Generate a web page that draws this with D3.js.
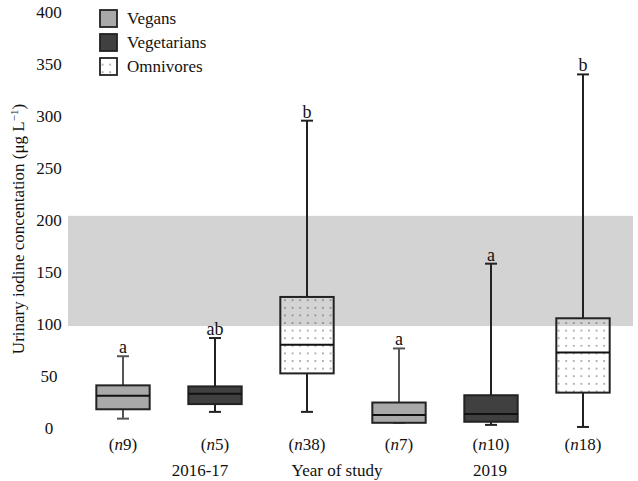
<!DOCTYPE html>
<html>
<head>
<meta charset="utf-8">
<script src="https://cdn.jsdelivr.net/npm/d3@7"></script>
<style>
body { margin: 0; background: #fff; }
</style>
</head>
<body>
<svg id="chart" width="638" height="481"></svg>
<script>
// ---- data ----
const groups = ["Vegans", "Vegetarians", "Omnivores", "Vegans", "Vegetarians", "Omnivores"];
const nLabels = ["9", "5", "38", "7", "10", "18"];
const letters = ["a", "ab", "b", "a", "a", "b"];
const whiskerLow = [9, 15.5, 15.5, 5, 3, 1];
const q1 = [18, 23, 52.5, 5, 6, 34];
const median = [31, 33, 80, 12.5, 13.5, 72.5];
const q3 = [41, 40, 126, 24.5, 31.5, 105.5];
const whiskerHigh = [69, 86.5, 295.5, 76.5, 158, 340];
const yTicks = [0, 50, 100, 150, 200, 250, 300, 350, 400];
const band = [98, 204];
const yearLabels = ["2016-17", "Year of study", "2019"];
const legendItems = ["Vegans", "Vegetarians", "Omnivores"];

const FONT = "Liberation Serif";
const svg = d3.select("#chart");
const defs = svg.append("defs");
const pat = defs.append("pattern").attr("id", "dots").attr("patternUnits", "userSpaceOnUse")
  .attr("width", 7.6).attr("height", 7.6);
pat.append("circle").attr("cx", 3.8).attr("cy", 3.8).attr("r", 0.75).attr("fill", "#444");

const fills = { Vegans: "#a9a9a9", Vegetarians: "#404040", Omnivores: "url(#dots)" };

const y = d3.scaleLinear().domain([0, 400]).range([428, 12]);
const x = d3.scaleBand().domain(d3.range(6)).range([77, 629]).paddingInner(0.42).paddingOuter(0.21);

function txt(sel) { return sel.attr("font-family", FONT).attr("fill", "#111"); }

// band
svg.append("rect").attr("x", 68).attr("width", 633 - 68)
  .attr("y", y(band[1])).attr("height", y(band[0]) - y(band[1]))
  .attr("fill", "#d3d3d3");

// y axis (labels only)
const yAxis = d3.axisLeft(y).tickValues(yTicks).tickSize(0).tickPadding(0);
const ag = svg.append("g").attr("transform", "translate(49,0)").call(yAxis)
  .attr("font-family", FONT).attr("font-size", 17);
ag.select(".domain").remove();
ag.selectAll("text").attr("fill", "#111").attr("text-anchor", "middle").attr("dx", 0);

txt(svg.append("text")).attr("transform", "translate(24,229) rotate(-90)")
  .attr("text-anchor", "middle").attr("font-size", 17)
  .html('Urinary iodine concentation (μg L<tspan dy="-6" font-size="11">−1</tspan><tspan dy="6">)</tspan>');

// boxes
const capW = 12;
d3.range(6).forEach(i => {
  const g = svg.append("g");
  const cx = x(i) + x.bandwidth() / 2;
  const wcol = groups[i] === "Vegans" ? "#555" : "#222";
  g.append("line").attr("x1", cx).attr("x2", cx).attr("y1", y(whiskerHigh[i])).attr("y2", y(q3[i]))
    .attr("stroke", wcol).attr("stroke-width", 2);
  g.append("line").attr("x1", cx).attr("x2", cx).attr("y1", y(whiskerLow[i])).attr("y2", y(q1[i]))
    .attr("stroke", wcol).attr("stroke-width", 2);
  [whiskerHigh[i], whiskerLow[i]].forEach(v => {
    g.append("line").attr("x1", cx - capW / 2).attr("x2", cx + capW / 2).attr("y1", y(v)).attr("y2", y(v))
      .attr("stroke", wcol).attr("stroke-width", 2);
  });
  g.append("rect").attr("x", x(i)).attr("width", x.bandwidth())
    .attr("y", y(q3[i])).attr("height", y(q1[i]) - y(q3[i]))
    .attr("fill", fills[groups[i]]).attr("stroke", "#222").attr("stroke-width", 2);
  g.append("line").attr("x1", x(i)).attr("x2", x(i) + x.bandwidth()).attr("y1", y(median[i])).attr("y2", y(median[i]))
    .attr("stroke", "#111").attr("stroke-width", 2);
  txt(g.append("text")).attr("x", cx).attr("y", y(whiskerHigh[i]) - 3).attr("text-anchor", "middle")
    .attr("font-size", 18).text(letters[i]);
  txt(g.append("text")).attr("x", cx).attr("y", 450).attr("text-anchor", "middle").attr("font-size", 17)
    .html(`(<tspan font-style="italic">n</tspan>${nLabels[i]})`);
});

// year labels
const yearXAdj = [200, 337, 490];
yearLabels.forEach((t, i) => {
  txt(svg.append("text")).attr("x", yearXAdj[i]).attr("y", 476).attr("text-anchor", "middle")
    .attr("font-size", 17).text(t);
});

// legend
legendItems.forEach((t, i) => {
  const ly = 10 + i * 24;
  svg.append("rect").attr("x", 100).attr("y", ly).attr("width", 17).attr("height", 17)
    .attr("fill", fills[t]).attr("stroke", "#222").attr("stroke-width", 1.8);
  txt(svg.append("text")).attr("x", 127).attr("y", ly + 14).attr("font-size", 17).text(t);
});
</script>
</body>
</html>
